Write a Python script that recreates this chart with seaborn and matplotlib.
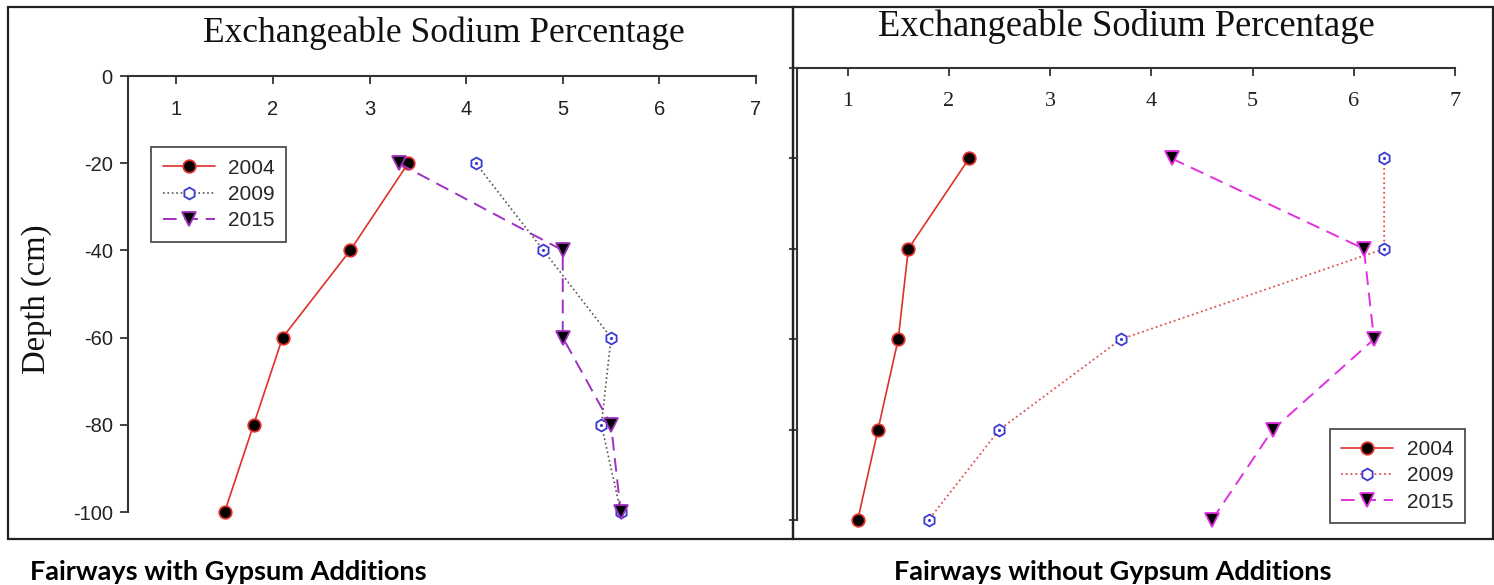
import numpy as np
import pandas as pd
import matplotlib
matplotlib.use("Agg")
import matplotlib.pyplot as plt
from matplotlib.patches import Rectangle
import seaborn as sns

# depths (cm) and ESP values
depth = [-20, -40, -60, -80, -100]

with_2004 = [3.4, 2.8, 2.1, 1.8, 1.5]
with_2009 = [4.1, 4.8, 5.5, 5.4, 5.6]
with_2015 = [3.3, 5.0, 5.0, 5.5, 5.6]

without_2004 = [2.2, 1.6, 1.5, 1.3, 1.1]
without_2009 = [6.3, 6.3, 3.7, 2.5, 1.8]
without_2015 = [4.2, 6.1, 6.2, 5.2, 4.6]

years = ["2004", "2009", "2015"]
x_ticks = [1, 2, 3, 4, 5, 6, 7]
y_ticks = [0, -20, -40, -60, -80, -100]

sns.set_style("white")
plt.rcParams["font.family"] = ["Liberation Sans", "DejaVu Sans"]
plt.rcParams["axes.unicode_minus"] = False

W, H = 1494, 585
fig = plt.figure(figsize=(W / 100, H / 100), dpi=100)


def box(x0, y0, x1, y1):
    return [x0 / W, 1 - y1 / H, (x1 - x0) / W, (y1 - y0) / H]


# outer frames
for (x0, x1) in [(8, 793), (793, 1493)]:
    fig.patches.append(Rectangle((x0 / W, 1 - 539 / H), (x1 - x0) / W, (539 - 7) / H,
                                 transform=fig.transFigure, fill=False,
                                 edgecolor="#222222", linewidth=1.6))


def draw_panel(ax, vals, styles, serif_ticks, show_ylabels):
    for yr, v, st in zip(years, vals, styles):
        sns.lineplot(x=v, y=depth, ax=ax, estimator=None, sort=False, label=yr,
                     color=st["lc"], linestyle=st["ls"], linewidth=st["lw"],
                     marker=st["m"], markersize=st["ms"], markerfacecolor=st["mfc"],
                     markeredgecolor=st["mec"], markeredgewidth=1.3, clip_on=False)
        if st["m"] == "h":
            # small centre dot in the open hexagons
            ax.plot(v, depth, linestyle="none", marker=".", markersize=2.5,
                    color=st["mec"], clip_on=False)
    ax.set_xlim(0.5, 7)
    ax.set_ylim(-100, 0)
    for s in ["right", "bottom"]:
        ax.spines[s].set_visible(False)
    for s in ["left", "top"]:
        ax.spines[s].set_color("#333333")
        ax.spines[s].set_linewidth(1.5)
    ax.xaxis.tick_top()
    ax.set_xticks(x_ticks)
    ax.set_yticks(y_ticks)
    ax.tick_params(axis="x", direction="in", length=6, width=1.2, pad=-31,
                   labelsize=16 if serif_ticks else 14.5, colors="#222222")
    ax.tick_params(axis="y", direction="out", length=6, width=1.2, labelsize=14.5,
                   colors="#222222", left=True, pad=5)
    if serif_ticks:
        for t in ax.get_xticklabels():
            t.set_fontfamily("Liberation Serif")
    if not show_ylabels:
        ax.set_yticklabels([])
    ax.set_xlabel("")
    ax.set_ylabel("")


leg_kw = dict(frameon=True, fancybox=False, edgecolor="#222222", fontsize=15,
              handlelength=2.5, handletextpad=0.65, borderpad=0.55, labelspacing=0.35)

ax1 = fig.add_axes(box(128, 76, 756, 512))
styles1 = [
    dict(lc="#e0302a", ls="-", lw=1.2, m="o", ms=9, mfc="black", mec="#e0302a"),
    dict(lc="#555555", ls=":", lw=1.2, m="h", ms=8.5, mfc="white", mec="#3a3ad0"),
    dict(lc="#a030c0", ls=(0, (7, 4)), lw=1.4, m="v", ms=9.5, mfc="black", mec="#a030c0"),
]
draw_panel(ax1, [with_2004, with_2009, with_2015], styles1, False, True)
ax1.legend(loc="upper left", bbox_to_anchor=(0.037, 0.837), borderaxespad=0,
           **leg_kw).get_frame().set_linewidth(1.3)

ax2 = fig.add_axes(box(797, 68, 1455, 520))
styles2 = [
    dict(lc="#e0302a", ls="-", lw=1.2, m="o", ms=9, mfc="black", mec="#e0302a"),
    dict(lc="#e05050", ls=":", lw=1.3, m="h", ms=8.5, mfc="white", mec="#3a3ad0"),
    dict(lc="#e030e0", ls=(0, (7, 4)), lw=1.4, m="v", ms=9.5, mfc="black", mec="#e030e0"),
]
draw_panel(ax2, [without_2004, without_2009, without_2015], styles2, True, False)
ax2.legend(loc="lower right", bbox_to_anchor=((1465 - 797) / 658, (520 - 523) / 452),
           borderaxespad=0, **leg_kw).get_frame().set_linewidth(1.3)

# titles, axis label and captions
fig.text(444 / W, 1 - 33 / H, "Exchangeable Sodium Percentage", ha="center", va="center",
         fontsize=25.5, family="Liberation Serif", color="#111111")
fig.text(1126 / W, 1 - 27 / H, "Exchangeable Sodium Percentage", ha="center", va="center",
         fontsize=26.3, family="Liberation Serif", color="#111111")
fig.text(37 / W, 1 - 299 / H, "Depth (cm)", rotation=90, ha="center", va="center",
         fontsize=23.5, family="Liberation Serif", color="#111111")
fig.text(30 / W, 1 - 572 / H, "Fairways with Gypsum Additions", ha="left", va="center",
         fontsize=19.5, family="Lato", fontweight="bold", color="black")
fig.text(1113 / W, 1 - 572 / H, "Fairways without Gypsum Additions", ha="center", va="center",
         fontsize=19.5, family="Lato", fontweight="bold", color="black")

fig.savefig("out.png", dpi=100)
